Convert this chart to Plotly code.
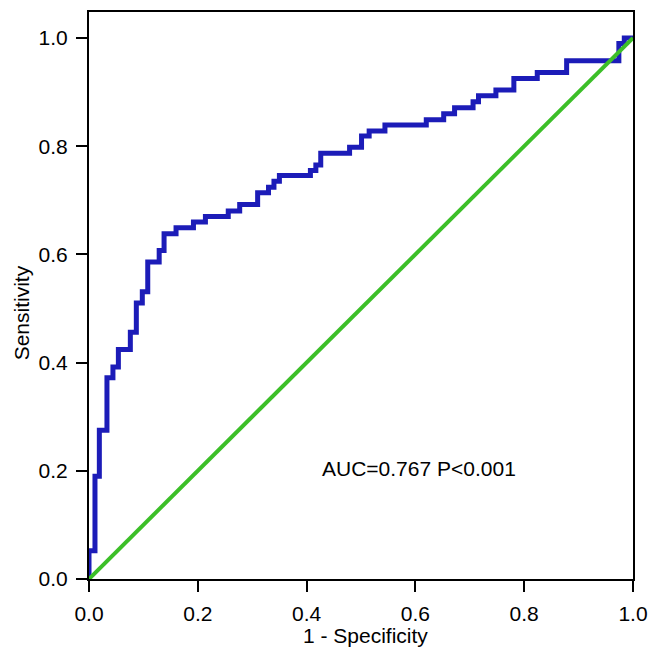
import plotly.graph_objects as go

# ROC curve steps (1 - specificity, sensitivity)
fpr = [0.0, 0.0, 0.011, 0.019, 0.033, 0.044, 0.054, 0.076, 0.087, 0.098, 0.108,
       0.129, 0.138, 0.160, 0.192, 0.214, 0.256, 0.277, 0.310, 0.330, 0.340,
       0.350, 0.407, 0.417, 0.426, 0.479, 0.501, 0.515, 0.544, 0.620, 0.652,
       0.672, 0.706, 0.716, 0.748, 0.781, 0.824, 0.878, 0.974, 0.984, 1.0]
tpr = [0.0, 0.052, 0.190, 0.275, 0.372, 0.392, 0.424, 0.456, 0.510, 0.531, 0.586,
       0.607, 0.638, 0.649, 0.660, 0.670, 0.680, 0.692, 0.714, 0.724, 0.735,
       0.746, 0.755, 0.765, 0.787, 0.798, 0.819, 0.828, 0.839, 0.849, 0.860,
       0.871, 0.882, 0.893, 0.904, 0.925, 0.936, 0.958, 0.990, 1.0, 1.0]

ref_x = [0.0, 1.0]
ref_y = [0.0, 1.0]

tick_vals = [0.0, 0.2, 0.4, 0.6, 0.8, 1.0]
tick_text = ["0.0", "0.2", "0.4", "0.6", "0.8", "1.0"]

font_family = "Liberation Sans, Arial, sans-serif"
fsize = 21
tfont = dict(family=font_family, size=fsize, color="black")

fig = go.Figure()
fig.add_trace(go.Scatter(x=fpr, y=tpr, mode="lines", line=dict(color="#1c1cb8", width=5, shape="hv"),
                         showlegend=False, hoverinfo="skip"))
fig.add_trace(go.Scatter(x=ref_x, y=ref_y, mode="lines", line=dict(color="#3cbf28", width=4),
                         showlegend=False, hoverinfo="skip"))

fig.add_annotation(x=0.607, y=0.205, xref="x", yref="y", text="AUC=0.767 P<0.001", showarrow=False,
                   font=tfont)
# axis titles
fig.add_annotation(x=0.509, y=-0.100, xref="x", yref="paper", text="1 - Specificity", showarrow=False,
                   font=tfont, xanchor="center", yanchor="middle")
fig.add_annotation(x=-0.125, y=0.491, xref="paper", yref="y", text="Sensitivity", showarrow=False,
                   font=tfont, textangle=-90, xanchor="center", yanchor="middle")

axis_common = dict(showgrid=False, zeroline=False, showline=True, linecolor="black", linewidth=2,
                   mirror=True, ticks="outside", ticklen=11, tickwidth=2, tickcolor="black",
                   ticklabelstandoff=4, tickfont=tfont)

fig.update_layout(
    width=642, height=643,
    margin=dict(l=81, r=16, t=2, b=72),
    plot_bgcolor="white", paper_bgcolor="white",
    xaxis=dict(range=[0, 1.0], tickvals=tick_vals, ticktext=tick_text, **axis_common),
    yaxis=dict(range=[0, 1.048], tickvals=tick_vals, ticktext=tick_text, **axis_common),
)

fig.write_html("out.html")
